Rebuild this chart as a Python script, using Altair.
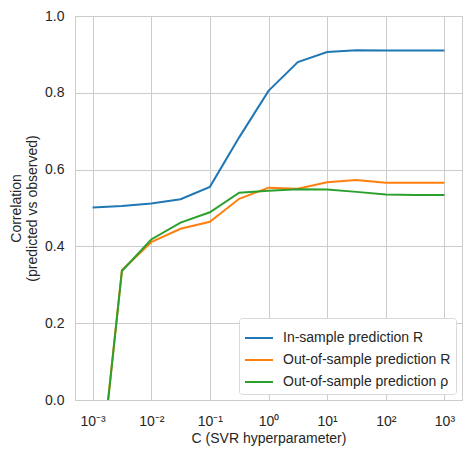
import altair as alt
import pandas as pd

# C values (SVR hyperparameter), half-decade grid
C_values = [0.001, 0.003162, 0.01, 0.03162, 0.1, 0.3162, 1.0, 3.162, 10.0, 31.62, 100.0, 316.2, 1000.0]
in_sample_R = [0.501, 0.505, 0.512, 0.523, 0.555, 0.684, 0.805, 0.880, 0.906, 0.911, 0.910, 0.910, 0.910]
out_sample_R = [-0.38, 0.338, 0.411, 0.446, 0.464, 0.524, 0.553, 0.550, 0.567, 0.573, 0.566, 0.566, 0.566]
out_sample_rho = [-0.38, 0.336, 0.418, 0.462, 0.489, 0.540, 0.545, 0.549, 0.548, 0.542, 0.535, 0.534, 0.534]

series_names = ["In-sample prediction R", "Out-of-sample prediction R", "Out-of-sample prediction ρ"]
series_colors = ["#1f77b4", "#ff7f0e", "#2ca02c"]

x_ticks = [0.001, 0.01, 0.1, 1, 10, 100, 1000]
x_tick_labels = ["10⁻³", "10⁻²", "10⁻¹", "10⁰", "10¹", "10²", "10³"]
y_ticks = [0.0, 0.2, 0.4, 0.6, 0.8, 1.0]

rows = []
for name, vals in zip(series_names, [in_sample_R, out_sample_R, out_sample_rho]):
    for c, v in zip(C_values, vals):
        rows.append({"C": c, "corr": v, "series": name})
df = pd.DataFrame(rows)

label_expr = " : ".join(
    f"datum.value < {t * 1.5} ? '{l}'" for t, l in zip(x_ticks, x_tick_labels)
) + " : ''"

FONT = "Liberation Sans"
TXT = "#262626"

chart = alt.Chart(df).mark_line(clip=True, strokeWidth=2).encode(
    x=alt.X(
        "C:Q",
        scale=alt.Scale(type="log", domain=[0.000501, 1995], nice=False),
        axis=alt.Axis(
            values=x_ticks, labelExpr=label_expr, title="C (SVR hyperparameter)",
            ticks=False, domain=False, labelPadding=14, titlePadding=3,
            labelFlush=False, labelOverlap=False,
        ),
    ),
    y=alt.Y(
        "corr:Q",
        scale=alt.Scale(domain=[0, 1], nice=False, zero=False),
        axis=alt.Axis(
            values=y_ticks, format=".1f", title=["Correlation", "(predicted vs observed)"],
            ticks=False, domain=False, labelPadding=11, titlePadding=5,
            labelFlush=False, labelOverlap=False,
        ),
    ),
    color=alt.Color(
        "series:N",
        scale=alt.Scale(domain=series_names, range=series_colors),
        sort=series_names,
        legend=alt.Legend(
            orient="none", legendX=164, legendY=302, title=None,
            symbolType="stroke", symbolSize=784, symbolStrokeWidth=2,
            labelFontSize=14, labelFont=FONT, labelColor=TXT,
            fillColor="white", strokeColor="#d9d9d9", cornerRadius=3,
            padding=5, rowPadding=0, labelOffset=9, labelLimit=300,
        ),
    ),
).properties(
    width=387, height=384,
    padding={"left": 67, "top": 8, "right": 2, "bottom": 55},
    autosize=alt.AutoSizeParams(type="none"),
).configure_view(
    stroke="#cccccc", strokeWidth=1
).configure_axis(
    gridColor="#cccccc", gridWidth=1, gridOpacity=1,
    labelFont=FONT, labelFontSize=14, labelColor=TXT,
    titleFont=FONT, titleFontSize=14, titleColor=TXT, titleFontWeight="normal",
)

chart.save("out.html", embed_options={"renderer": "svg", "actions": False})
